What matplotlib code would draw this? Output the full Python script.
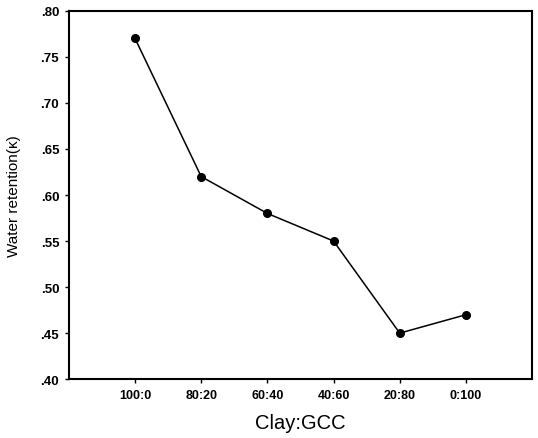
import numpy as np
import matplotlib.pyplot as plt
from matplotlib.ticker import FuncFormatter

plt.rcParams['font.family'] = ['Liberation Sans', 'DejaVu Sans']

ratios = ['100:0', '80:20', '60:40', '40:60', '20:80', '0:100']
retention = [0.77, 0.62, 0.58, 0.55, 0.45, 0.47]
yticks = [0.40, 0.45, 0.50, 0.55, 0.60, 0.65, 0.70, 0.75, 0.80]

fig = plt.figure(figsize=(5.38, 4.39), dpi=100)
ax = fig.add_axes([0.128, 0.134, 0.861, 0.839])

x = np.arange(1, len(ratios) + 1)
ax.plot(x, retention, color='black', lw=1.1, marker='o', ms=5.5)

ax.set_xlim(0, 7)
ax.set_ylim(0.40, 0.80)
ax.set_xticks(x)
ax.set_xticklabels(ratios, fontsize=9, fontweight='bold')
ax.set_yticks(yticks)
ax.yaxis.set_major_formatter(FuncFormatter(lambda v, p: ('%.2f' % v)[1:]))
for lab in ax.get_yticklabels():
    lab.set_fontsize(9.5)
    lab.set_fontweight('bold')
ax.tick_params(direction='out', length=3, width=1, pad=4)

for s in ax.spines.values():
    s.set_linewidth(1.5)

ax.set_ylabel('Water retention(\u03ba)', fontsize=11)
ax.yaxis.set_label_coords(-0.103, 0.5)
ax.set_xlabel('Clay:GCC', fontsize=14.5, labelpad=9)

fig.savefig('out.png', dpi=100)
